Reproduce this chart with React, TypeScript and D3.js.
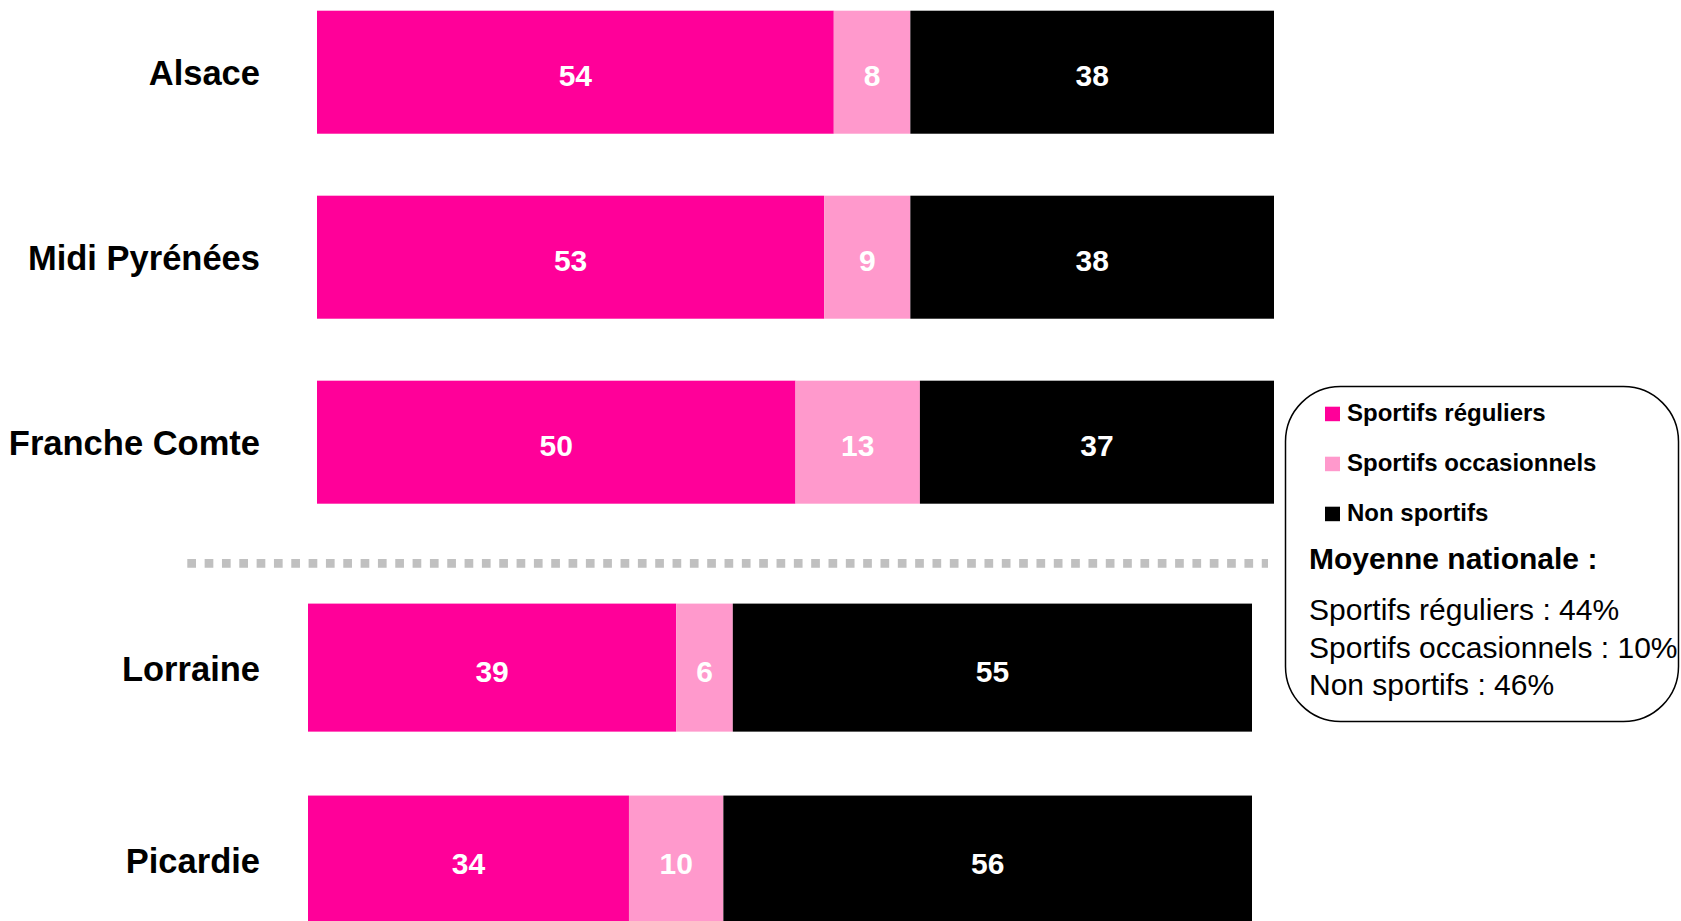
import React from "react";
import * as d3 from "d3";

// regions above / below the national average (split by the dotted line)
const aboveAverage = ["Alsace", "Midi Pyrénées", "Franche Comte"];
const belowAverage = ["Lorraine", "Picardie"];
const regions = [...aboveAverage, ...belowAverage];

const reguliers = [54, 53, 50, 39, 34];
const occasionnels = [8, 9, 13, 6, 10];
const nonSportifs = [38, 38, 37, 55, 56];

const seriesKeys = ["reguliers", "occasionnels", "nonSportifs"];
const seriesNames = ["Sportifs réguliers", "Sportifs occasionnels", "Non sportifs"];
const seriesColors = ["#FF0099", "#FF99CC", "#000000"];
const nationalAverage = [44, 10, 46];

const FONT = "'Liberation Sans', Arial, Helvetica, sans-serif";
const W = 1681;
const H = 921;

type Row = { region: string; reguliers: number; occasionnels: number; nonSportifs: number };

const rows: Row[] = regions.map((region, i) => ({
  region,
  reguliers: reguliers[i],
  occasionnels: occasionnels[i],
  nonSportifs: nonSportifs[i],
}));

const stacked = d3.stack<Row>().keys(seriesKeys)(rows);

// two blocks of bars, each with its own scales
const xTop = d3.scaleLinear().domain([0, 100]).range([317, 1274]);
const xBottom = d3.scaleLinear().domain([0, 100]).range([308, 1252]);
const yTop = d3.scaleBand<string>().domain(aboveAverage).range([10.7, 503.7]).paddingInner(0.335);
const yBottom = d3.scaleBand<string>().domain(belowAverage).range([603.6, 923.6]).paddingInner(0.333);

const xOf = (region: string) => (aboveAverage.includes(region) ? xTop : xBottom);
const yOf = (region: string) => (aboveAverage.includes(region) ? yTop : yBottom);

function Bars() {
  return (
    <g>
      {stacked.map((layer, si) =>
        layer.map((seg) => {
          const region = seg.data.region;
          const x = xOf(region);
          const y = yOf(region);
          const x0 = x(seg[0]);
          const x1 = x(seg[1]);
          const yy = y(region)!;
          const bw = y.bandwidth();
          return (
            <g key={region + si}>
              <rect x={x0} y={yy} width={x1 - x0} height={bw} fill={seriesColors[si]} />
              <text
                x={(x0 + x1) / 2}
                y={yy + bw / 2}
                dy="0.47em"
                textAnchor="middle"
                fill="#fff"
                fontSize={30}
                fontWeight="bold"
                fontFamily={FONT}
              >
                {seg[1] - seg[0]}
              </text>
            </g>
          );
        })
      )}
    </g>
  );
}

function RegionLabels() {
  return (
    <g>
      {regions.map((r) => {
        const y = yOf(r);
        return (
          <text
            key={r}
            x={260}
            y={y(r)! + y.bandwidth() / 2}
            dy="0.38em"
            textAnchor="end"
            fontSize={34.5}
            fontWeight="bold"
            fontFamily={FONT}
            fill="#000"
          >
            {r}
          </text>
        );
      })}
    </g>
  );
}

function Legend() {
  return (
    <g fontFamily={FONT}>
      <rect x={1285.5} y={386.5} width={393} height={335} rx={55} ry={55} fill="#fff" stroke="#000" strokeWidth={1.5} />
      {seriesNames.map((name, i) => (
        <g key={name} transform={`translate(1325, ${406.7 + i * 50})`}>
          <rect width={15} height={14.5} fill={seriesColors[i]} />
          <text x={22} y={14} fontSize={24} fontWeight="bold" fill="#000">
            {name}
          </text>
        </g>
      ))}
      <text x={1309} y={569} fontSize={30} fontWeight="bold" fill="#000">
        Moyenne nationale :
      </text>
      {seriesNames.map((name, i) => (
        <text key={name} x={1309} y={620 + i * 37.5} fontSize={30} fill="#000">
          {`${name} : ${nationalAverage[i]}%`}
        </text>
      ))}
    </g>
  );
}

export default function App() {
  return (
    <svg
      width={W}
      height={H}
      viewBox={`0 0 ${W} ${H}`}
      style={{ position: "absolute", left: 0, top: 0, background: "#fff", overflow: "hidden" }}
    >
      <rect width={W} height={H} fill="#fff" />
      <Bars />
      <RegionLabels />
      <line
        x1={187.3}
        x2={1268}
        y1={563.3}
        y2={563.3}
        stroke="#C0C0C0"
        strokeWidth={8.7}
        strokeDasharray="8.7 8.63"
      />
      <Legend />
    </svg>
  );
}
